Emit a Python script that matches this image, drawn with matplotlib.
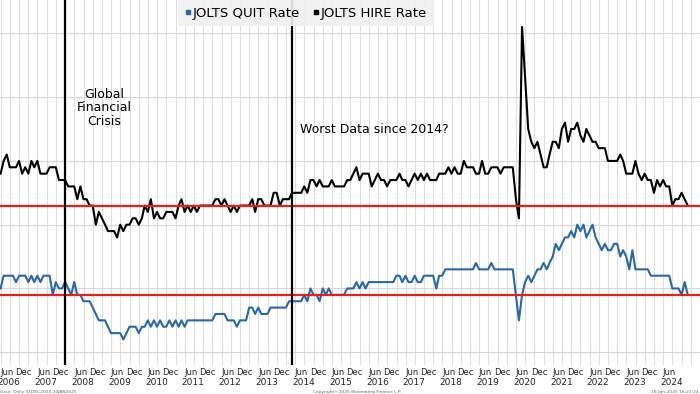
import pandas as pd
import numpy as np
import matplotlib
matplotlib.use('Agg')
import matplotlib.pyplot as plt
from matplotlib.lines import Line2D

# monthly JOLTS rates (%), Mar 2006 .. Nov 2024
start_month = '2006-03-31'

hire_rate = [
    3.8, 4.0, 4.1, 3.9, 3.9, 3.9, 4.0, 3.8, 3.9, 3.8,
    4.0, 3.9, 4.0, 3.8, 3.8, 3.8, 3.9, 3.9, 3.9, 3.7, 3.7, 3.7,
    3.6, 3.6, 3.6, 3.4, 3.6, 3.4, 3.4, 3.3, 3.3, 3.0, 3.2, 3.1,
    3.0, 2.9, 2.9, 2.9, 2.8, 3.0, 2.9, 3.0, 3.0, 3.1, 3.1, 3.0,
    3.1, 3.3, 3.2, 3.4, 3.1, 3.2, 3.1, 3.1, 3.2, 3.2, 3.2, 3.1,
    3.3, 3.4, 3.2, 3.3, 3.2, 3.3, 3.2, 3.3, 3.3, 3.3, 3.3, 3.3,
    3.4, 3.4, 3.3, 3.4, 3.3, 3.2, 3.3, 3.2, 3.3, 3.3, 3.3, 3.3,
    3.4, 3.2, 3.4, 3.4, 3.3, 3.3, 3.3, 3.5, 3.5, 3.3, 3.4, 3.4,
    3.4, 3.5, 3.5, 3.5, 3.5, 3.6, 3.5, 3.7, 3.7, 3.6, 3.7, 3.6,
    3.6, 3.6, 3.7, 3.6, 3.6, 3.6, 3.6, 3.7, 3.7, 3.8, 3.9, 3.7,
    3.8, 3.8, 3.8, 3.6, 3.7, 3.8, 3.7, 3.7, 3.6, 3.7, 3.7, 3.7,
    3.8, 3.7, 3.7, 3.6, 3.7, 3.8, 3.7, 3.8, 3.7, 3.8, 3.7, 3.7,
    3.7, 3.8, 3.8, 3.8, 3.9, 3.8, 3.9, 3.8, 3.8, 4.0, 3.9, 3.9,
    3.9, 3.8, 3.8, 4.0, 3.8, 3.8, 3.9, 3.9, 3.9, 3.8, 3.9, 3.9,
    3.9, 3.9, 3.4, 3.1, 6.1, 5.3, 4.5, 4.3, 4.2, 4.3, 4.1, 3.9,
    3.9, 4.1, 4.3, 4.3, 4.2, 4.5, 4.6, 4.3, 4.5, 4.5, 4.6, 4.4,
    4.3, 4.5, 4.4, 4.3, 4.3, 4.2, 4.2, 4.2, 4.0, 4.0, 4.0, 4.0,
    4.1, 4.0, 3.8, 3.8, 3.8, 4.0, 3.8, 3.7, 3.8, 3.7, 3.7, 3.5,
    3.7, 3.6, 3.7, 3.6, 3.6, 3.3, 3.4, 3.4, 3.5, 3.4, 3.3,
]

quit_rate = [
    2.0, 2.2, 2.2, 2.2, 2.2, 2.1, 2.2, 2.2, 2.2, 2.1,
    2.2, 2.1, 2.2, 2.1, 2.2, 2.2, 2.2, 1.9, 2.1, 2.0, 2.0, 2.1,
    2.0, 1.9, 2.1, 1.9, 1.9, 1.8, 1.8, 1.8, 1.7, 1.6, 1.5, 1.5,
    1.5, 1.4, 1.3, 1.3, 1.3, 1.3, 1.2, 1.3, 1.4, 1.4, 1.4, 1.3,
    1.4, 1.4, 1.5, 1.4, 1.5, 1.4, 1.5, 1.4, 1.4, 1.5, 1.4, 1.5,
    1.4, 1.5, 1.4, 1.5, 1.5, 1.5, 1.5, 1.5, 1.5, 1.5, 1.5, 1.5,
    1.6, 1.6, 1.6, 1.6, 1.5, 1.5, 1.5, 1.4, 1.5, 1.5, 1.5, 1.7,
    1.7, 1.6, 1.7, 1.6, 1.6, 1.6, 1.7, 1.7, 1.7, 1.7, 1.7, 1.7,
    1.8, 1.8, 1.8, 1.8, 1.8, 1.9, 1.8, 2.0, 1.9, 1.9, 1.8, 2.0,
    1.9, 2.0, 1.9, 1.9, 1.9, 1.9, 1.9, 2.0, 2.0, 2.0, 2.1, 2.0,
    2.1, 2.0, 2.1, 2.1, 2.1, 2.1, 2.1, 2.1, 2.1, 2.1, 2.1, 2.2,
    2.2, 2.1, 2.2, 2.1, 2.1, 2.2, 2.1, 2.1, 2.2, 2.2, 2.2, 2.2,
    2.0, 2.2, 2.2, 2.3, 2.3, 2.3, 2.3, 2.3, 2.3, 2.3, 2.3, 2.3,
    2.3, 2.4, 2.3, 2.3, 2.3, 2.3, 2.4, 2.3, 2.3, 2.3, 2.3, 2.3,
    2.3, 2.3, 1.9, 1.5, 1.9, 2.1, 2.2, 2.1, 2.2, 2.3, 2.3, 2.4,
    2.3, 2.4, 2.5, 2.7, 2.6, 2.7, 2.8, 2.8, 2.9, 2.8, 3.0, 2.9,
    3.0, 2.8, 2.9, 3.0, 2.8, 2.7, 2.6, 2.7, 2.6, 2.6, 2.7, 2.7,
    2.5, 2.6, 2.5, 2.3, 2.6, 2.3, 2.3, 2.3, 2.3, 2.3, 2.2, 2.2,
    2.2, 2.2, 2.2, 2.2, 2.2, 2.0, 2.0, 2.0, 1.9, 2.1, 1.9,
]

label_years = list(range(2006, 2025))
series_names = ['JOLTS QUIT Rate', 'JOLTS HIRE Rate']
gfc_text = 'Global\nFinancial\nCrisis'
worst_text = 'Worst Data since 2014?'

quit_color = '#2a67a6'
red = '#e3211c'

dates = pd.date_range(start_month, periods=len(hire_rate), freq='ME')

fig = plt.figure(figsize=(7, 3.94), dpi=100)
ax = fig.add_axes([0, 1 - 365 / 394, 1, 365 / 394])

ax.plot(dates, quit_rate, color=quit_color, lw=1.5, zorder=3)
ax.plot(dates, hire_rate, color='black', lw=1.5, zorder=3)

# latest readings as reference lines
ax.axhline(hire_rate[-1], color=red, lw=1.6, zorder=4)
ax.axhline(quit_rate[-1], color=red, lw=1.6, zorder=4)

ax.axvline(pd.Timestamp('2008-01-01'), color='black', lw=1.6, zorder=4)
ax.axvline(pd.Timestamp('2014-03-05'), color='black', lw=1.6, zorder=4)

ax.set_xlim(pd.Timestamp('2006-03-25'), pd.Timestamp('2025-04-01'))
ax.set_ylim(0.80, 6.523)

ax.set_yticks(np.arange(1, 7))
ax.set_xticks([])
ax.set_xticks(pd.date_range('2006-04-01', '2025-04-01', freq='QS'), minor=True)
ax.grid(axis='y', which='major', color='#d6d6d6', lw=0.8)
ax.grid(axis='x', which='minor', color='#dedede', lw=0.8)
ax.tick_params(which='both', length=0, labelleft=False, labelbottom=False)
for s in ax.spines.values():
    s.set_visible(False)

# month / year labels under the axis
tr = ax.get_xaxis_transform()
for y in label_years:
    ax.text(pd.Timestamp(y, 6, 2), -0.021, 'Jun', transform=tr, ha='center',
            va='center', fontsize=6, color='#222222', clip_on=False)
    if y < 2024:
        ax.text(pd.Timestamp(y, 11, 14), -0.021, 'Dec', transform=tr, ha='center',
                va='center', fontsize=6, color='#222222', clip_on=False)
    ax.text(pd.Timestamp(y, 6, 25), -0.047, str(y), transform=tr, ha='center',
            va='center', fontsize=6.5, color='#222222', clip_on=False)

ax.text(pd.Timestamp('2009-01-22'), 4.83, gfc_text, ha='center', va='center',
        fontsize=9, linespacing=1.05, zorder=5)
ax.text(pd.Timestamp('2014-05-18'), 4.49, worst_text, ha='left', va='center',
        fontsize=9, zorder=5)

handles = [Line2D([], [], marker='s', ls='none', ms=3, color=quit_color),
           Line2D([], [], marker='s', ls='none', ms=3, color='black')]
leg = ax.legend(handles, series_names, loc='upper center', bbox_to_anchor=(0.437, 1.0),
                ncol=2, frameon=True, fontsize=9.5, handlelength=0.5, handletextpad=0.1,
                columnspacing=1.0, borderaxespad=0, borderpad=0.5, fancybox=False)
leg.get_frame().set_facecolor('#f0f0f0')
leg.get_frame().set_edgecolor('none')
leg.get_frame().set_alpha(0.9)
leg.set_zorder(6)

fig.text(0.0, 0.0, 'Gout  Daily 31DEC2003-10JAN2025', fontsize=3.2, color='#666666',
         ha='left', va='bottom')
fig.text(0.51, 0.0, 'Copyright\u00a92025 Bloomberg Finance L.P.', fontsize=3.2,
         color='#666666', ha='center', va='bottom')
fig.text(0.998, 0.0, '10-Jan-2025 16:21:24', fontsize=3.2, color='#666666',
         ha='right', va='bottom')

fig.savefig('out.png', dpi=100)
